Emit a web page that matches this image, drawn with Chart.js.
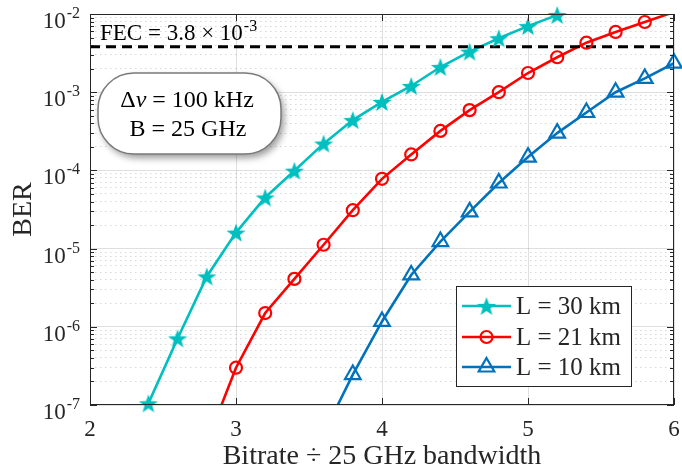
<!DOCTYPE html>
<html>
<head>
<meta charset="utf-8">
<script src="https://cdn.jsdelivr.net/npm/chart.js@4/dist/chart.umd.min.js"></script>
<style>
  html, body { margin: 0; padding: 0; background: #ffffff; }
  #wrap { width: 682px; height: 474px; }
</style>
</head>
<body>
<div id="wrap"><canvas id="c" width="682" height="474"></canvas></div>
<script>
// ---------------- data ----------------
const seriesLabels = ['L = 30 km', 'L = 21 km', 'L = 10 km'];
const bitrate30 = [2.4, 2.6, 2.8, 3.0, 3.2, 3.4, 3.6, 3.8, 4.0, 4.2, 4.4, 4.6, 4.8, 5.0, 5.2];
const ber30     = [1.05e-7, 7.1e-7, 4.4e-6, 1.6e-5, 4.5e-5, 9.9e-5, 2.2e-4, 4.4e-4, 7.5e-4, 1.2e-3, 2.1e-3, 3.3e-3, 4.9e-3, 7.0e-3, 9.7e-3];
const bitrate21 = [2.8, 3.0, 3.2, 3.4, 3.6, 3.8, 4.0, 4.2, 4.4, 4.6, 4.8, 5.0, 5.2, 5.4, 5.6, 5.8, 6.0];
const ber21     = [3.3e-8, 3.0e-7, 1.5e-6, 4.1e-6, 1.12e-5, 3.1e-5, 7.8e-5, 1.6e-4, 3.2e-4, 5.9e-4, 1.0e-3, 1.76e-3, 2.8e-3, 4.3e-3, 5.9e-3, 7.9e-3, 1.06e-2];
const bitrate10 = [3.6, 3.8, 4.0, 4.2, 4.4, 4.6, 4.8, 5.0, 5.2, 5.4, 5.6, 5.8, 6.0];
const ber10     = [4.3e-8, 2.45e-7, 1.17e-6, 4.6e-6, 1.23e-5, 2.95e-5, 6.9e-5, 1.48e-4, 3.0e-4, 5.5e-4, 1.0e-3, 1.5e-3, 2.35e-3];
const xTicks = [2, 3, 4, 5, 6];
const yDecades = [-7, -6, -5, -4, -3, -2];
const fecLevel = 3.8e-3;
const fecText = 'FEC = 3.8 × 10';
const fecExp = '-3';
const noteLine1 = ['Δ', 'ν', ' = 100 kHz'];
const noteLine2 = 'B = 25 GHz';
const xTitle = 'Bitrate ÷ 25 GHz bandwidth';
const yTitle = 'BER';

// ---------------- styling ----------------
const AX = '#262626';
const FONT = "'Liberation Serif', 'Times New Roman', serif";
const colors = ['#00BFBF', '#FF0000', '#0072BD'];
const yMin = Math.pow(10, yDecades[0]);
const yMax = Math.pow(10, yDecades[yDecades.length - 1]);

function makeStar(color, R) {
  const s = Math.ceil(R * 2 + 2);
  const c = document.createElement('canvas');
  c.width = s; c.height = s;
  const g = c.getContext('2d');
  g.fillStyle = color;
  g.beginPath();
  for (let i = 0; i < 10; i++) {
    const r = (i % 2) ? R * 0.41 : R;
    const a = -Math.PI / 2 + i * Math.PI / 5;
    g.lineTo(s / 2 + r * Math.cos(a), s / 2 + 1 + r * Math.sin(a));
  }
  g.closePath();
  g.fill();
  return c;
}
const starImg = makeStar(colors[0], 10);

const series = [
  { label: seriesLabels[0], xs: bitrate30, ys: ber30, color: colors[0], style: starImg, radius: 10 },
  { label: seriesLabels[1], xs: bitrate21, ys: ber21, color: colors[1], style: 'circle', radius: 6 },
  { label: seriesLabels[2], xs: bitrate10, ys: ber10, color: colors[2], style: 'triangle', radius: 9 }
];
function pts(xs, ys) { return xs.map((x, i) => ({ x: x, y: ys[i] })); }
function inRange(p) { return p.y >= yMin * 0.999 && p.y <= yMax * 1.001; }

const datasets = [];
series.forEach(s => {
  datasets.push({
    label: s.label, data: pts(s.xs, s.ys), borderColor: s.color, borderWidth: 2.6,
    pointRadius: 0, fill: false, tension: 0, clip: 0, order: 3
  });
});
series.forEach(s => {
  datasets.push({
    label: s.label + ' marker', data: pts(s.xs, s.ys).filter(inRange), showLine: false,
    pointStyle: s.style, pointRadius: s.radius, pointBorderColor: s.color,
    pointBackgroundColor: 'rgba(0,0,0,0)', pointBorderWidth: 2.2, clip: false, order: 1
  });
});
datasets.push({
  label: 'FEC', data: [{ x: xTicks[0], y: fecLevel }, { x: xTicks[xTicks.length - 1], y: fecLevel }],
  borderColor: '#000000', borderWidth: 3, borderDash: [10, 6], pointRadius: 0, clip: 0, order: 2
});

function isDecade(v) {
  const l = Math.log10(v);
  return Math.abs(l - Math.round(l)) < 1e-6;
}

function drawRuns(ctx, runs, cx, baseline) {
  let total = 0;
  runs.forEach(r => { ctx.font = r.font; r.w = ctx.measureText(r.t).width; total += r.w; });
  let x = cx - total / 2;
  runs.forEach(r => { ctx.font = r.font; ctx.fillText(r.t, x, baseline); x += r.w; });
}

const decorPlugin = {
  id: 'decor',
  afterDraw(chart) {
    const ctx = chart.ctx;
    const a = chart.chartArea;
    const xs = chart.scales.x, ys = chart.scales.y;
    ctx.save();

    // axes box
    ctx.strokeStyle = AX;
    ctx.lineWidth = 1;
    ctx.strokeRect(a.left + 0.5, a.top + 0.5, a.right - a.left - 1, a.bottom - a.top - 1);

    // inward tick marks
    ctx.beginPath();
    ys.ticks.forEach(t => {
      const y = Math.round(ys.getPixelForValue(t.value)) + 0.5;
      const len = isDecade(t.value) ? 7 : 4;
      ctx.moveTo(a.left, y); ctx.lineTo(a.left + len, y);
      ctx.moveTo(a.right, y); ctx.lineTo(a.right - len, y);
    });
    xTicks.forEach(v => {
      const x = Math.round(xs.getPixelForValue(v)) + 0.5;
      ctx.moveTo(x, a.bottom); ctx.lineTo(x, a.bottom - 7);
      ctx.moveTo(x, a.top); ctx.lineTo(x, a.top + 7);
    });
    ctx.stroke();

    // y tick labels with superscripts
    ctx.fillStyle = AX;
    ctx.textAlign = 'left';
    ctx.textBaseline = 'alphabetic';
    yDecades.forEach(e => {
      const y = ys.getPixelForValue(Math.pow(10, e));
      const expStr = String(e);
      ctx.font = '16px ' + FONT;
      const we = ctx.measureText(expStr).width;
      ctx.font = '23px ' + FONT;
      const wb = ctx.measureText('10').width;
      const right = a.left - 10;
      ctx.fillText('10', right - we - wb - 1, y + 14);
      ctx.font = '16px ' + FONT;
      ctx.fillText(expStr, right - we, y + 4);
    });

    // FEC label
    ctx.fillStyle = '#000000';
    ctx.font = '23px ' + FONT;
    const fx = a.left + 10;
    ctx.fillText(fecText, fx, 40);
    const fw = ctx.measureText(fecText).width;
    ctx.font = '16px ' + FONT;
    ctx.fillText(fecExp, fx + fw + 1, 31);

    // annotation box
    const bx = 98, by = 73, bw = 183, bh = 81, br = 36;
    ctx.save();
    ctx.shadowColor = 'rgba(0,0,0,0.4)';
    ctx.shadowBlur = 7;
    ctx.shadowOffsetX = 3;
    ctx.shadowOffsetY = 4;
    ctx.fillStyle = '#ffffff';
    ctx.beginPath();
    ctx.roundRect(bx, by, bw, bh, br);
    ctx.fill();
    ctx.restore();
    ctx.strokeStyle = '#7a7a7a';
    ctx.lineWidth = 1.5;
    ctx.beginPath();
    ctx.roundRect(bx, by, bw, bh, br);
    ctx.stroke();
    ctx.fillStyle = '#000000';
    const nf = '24px ' + FONT, nfi = 'italic 24px ' + FONT;
    drawRuns(ctx, [{ t: noteLine1[0], font: nf }, { t: noteLine1[1], font: nfi }, { t: noteLine1[2], font: nf }], 187, 107);
    drawRuns(ctx, [{ t: noteLine2, font: nf }], 188, 136);

    // legend
    const lx = 456, ly = 286, lw = 175, lh = 100;
    ctx.fillStyle = '#ffffff';
    ctx.fillRect(lx, ly, lw, lh);
    ctx.strokeStyle = AX;
    ctx.lineWidth = 1;
    ctx.strokeRect(lx + 0.5, ly + 0.5, lw, lh);
    const rowY = [306, 337, 367];
    const baseY = [314, 345, 375];
    series.forEach((s, i) => {
      const y = rowY[i];
      ctx.strokeStyle = s.color;
      ctx.lineWidth = 2.6;
      ctx.beginPath();
      ctx.moveTo(462, y); ctx.lineTo(511, y);
      ctx.stroke();
      const mx = 486.5;
      ctx.lineWidth = 2.2;
      if (s.style === 'circle') {
        ctx.beginPath(); ctx.arc(mx, y, s.radius, 0, Math.PI * 2); ctx.stroke();
      } else if (s.style === 'triangle') {
        const r = s.radius; let rad = 0;
        ctx.beginPath();
        ctx.moveTo(mx + Math.sin(rad) * r, y - Math.cos(rad) * r);
        rad += 2 * Math.PI / 3;
        ctx.lineTo(mx + Math.sin(rad) * r, y - Math.cos(rad) * r);
        rad += 2 * Math.PI / 3;
        ctx.lineTo(mx + Math.sin(rad) * r, y - Math.cos(rad) * r);
        ctx.closePath(); ctx.stroke();
      } else {
        ctx.drawImage(s.style, mx - s.style.width / 2, y - s.style.height / 2);
      }
      ctx.fillStyle = AX;
      ctx.font = '25px ' + FONT;
      ctx.fillText(s.label, 516, baseY[i]);
    });

    ctx.restore();
  }
};

new Chart(document.getElementById('c'), {
  type: 'line',
  data: { datasets: datasets },
  plugins: [decorPlugin],
  options: {
    responsive: false,
    animation: false,
    devicePixelRatio: 1,
    events: [],
    layout: { autoPadding: false, padding: { top: 14, right: 8, left: 0, bottom: 0 } },
    plugins: { legend: { display: false }, tooltip: { enabled: false } },
    scales: {
      x: {
        type: 'linear', min: xTicks[0], max: xTicks[xTicks.length - 1],
        afterBuildTicks: s => { s.ticks = xTicks.map(v => ({ value: v })); },
        ticks: { autoSkip: false, maxRotation: 0, padding: 11, color: AX, font: { family: FONT, size: 23 },
                 callback: v => String(v) },
        grid: { color: 'rgba(38,38,38,0.15)', lineWidth: 1, drawTicks: false },
        border: { display: false },
        title: { display: true, text: xTitle, color: AX, font: { family: FONT, size: 28 }, padding: { top: 0, bottom: 1 } },
        afterFit: s => { s.height = 69; s.paddingLeft = 0; s.paddingRight = 0; s.paddingTop = 0; s.paddingBottom = 0; }
      },
      y: {
        type: 'logarithmic', min: yMin, max: yMax,
        afterBuildTicks: s => {
          const t = [];
          for (let e = yDecades[0]; e < yDecades[yDecades.length - 1]; e++) {
            for (let m = 1; m <= 9; m++) t.push({ value: m * Math.pow(10, e) });
          }
          t.push({ value: yMax });
          s.ticks = t;
        },
        ticks: { display: false, autoSkip: false, callback: () => '' },
        grid: {
          drawTicks: false, lineWidth: 1,
          color: c => (c.tick && isDecade(c.tick.value)) ? 'rgba(38,38,38,0.15)' : 'rgba(38,38,38,0.18)'
        },
        border: { display: false, dash: c => (c.tick && !isDecade(c.tick.value)) ? [1.5, 3.5] : [] },
        title: { display: true, text: yTitle, color: AX, font: { family: FONT, size: 28 }, padding: { top: 7, bottom: 0 } },
        afterFit: s => { s.width = 90; s.paddingLeft = 0; s.paddingRight = 0; s.paddingTop = 0; s.paddingBottom = 0; }
      }
    }
  }
});
</script>
</body>
</html>
